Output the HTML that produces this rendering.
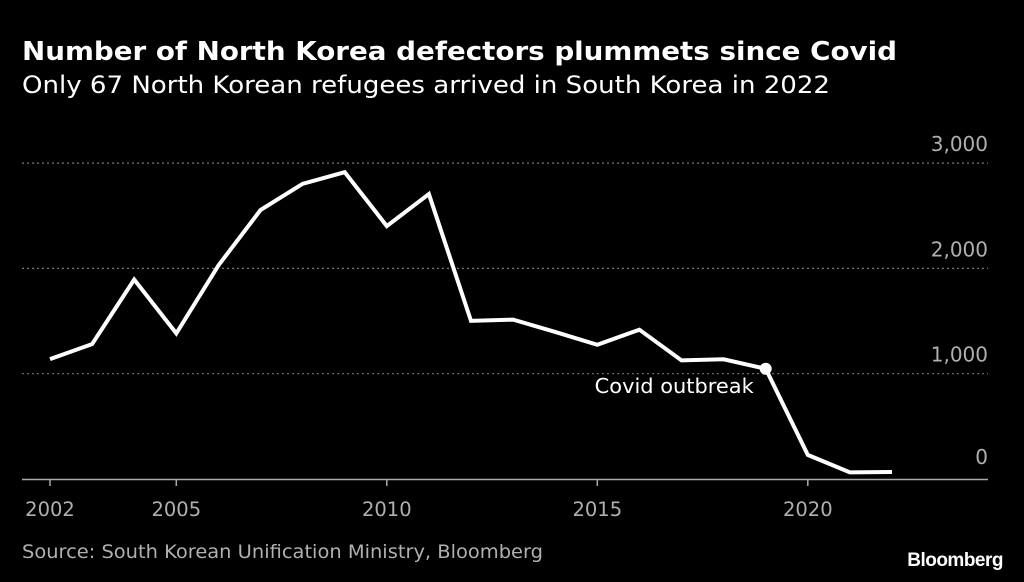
<!DOCTYPE html>
<html><head><meta charset="utf-8"><style>
html,body{margin:0;padding:0;background:#000;}
svg{display:block;font-family:"DejaVu Sans","Liberation Sans",sans-serif;}
</style></head><body>
<svg id="chart" width="1024" height="582" viewBox="0 0 1024 582">
<rect width="1024" height="582" fill="#000"/>
<text x="22" y="60" font-size="26" font-weight="bold" fill="#fff" textLength="875" lengthAdjust="spacingAndGlyphs">Number of North Korea defectors plummets since Covid</text>
<text x="22" y="93" font-size="24" fill="#fff" textLength="808" lengthAdjust="spacingAndGlyphs">Only 67 North Korean refugees arrived in South Korea in 2022</text>
<g id="grid"></g>
<g id="xaxis"></g>
<g id="yaxis"></g>
<polyline id="line" fill="none" stroke="#fff" stroke-width="4" stroke-linejoin="miter"/>
<circle id="covid-dot" r="6" fill="#fff"/>
<text id="covid-label" font-size="20" fill="#fff" text-anchor="end" textLength="159" lengthAdjust="spacingAndGlyphs">Covid outbreak</text>
<text x="22" y="558" font-size="19" fill="#b0b0b0" textLength="521" lengthAdjust="spacingAndGlyphs">Source: South Korean Unification Ministry, Bloomberg</text>
<text x="1003" y="566" font-size="19" font-weight="bold" fill="#fff" text-anchor="end" font-family="Liberation Sans, sans-serif" letter-spacing="-0.5">Bloomberg</text>
</svg>
<script>
const years=[2002,2003,2004,2005,2006,2007,2008,2009,2010,2011,2012,2013,2014,2015,2016,2017,2018,2019,2020,2021,2022];
const defectors=[1138,1281,1894,1383,2028,2554,2803,2914,2402,2706,1502,1514,1397,1275,1418,1127,1137,1047,229,63,67];
const yTicks=[0,1000,2000,3000];
const yTickLabels=["0","1,000","2,000","3,000"];
const xTicks=[2002,2005,2010,2015,2020];
const covidYear=2019;
const ns="http://www.w3.org/2000/svg";
const x=v=>50+(v-2002)*42.1;
const y=v=>479-v*0.1053;
const grid=document.getElementById('grid'),xa=document.getElementById('xaxis'),ya=document.getElementById('yaxis');
yTicks.forEach((t,i)=>{
 if(t>0){const l=document.createElementNS(ns,'line');
 l.setAttribute('x1',22);l.setAttribute('x2',988);l.setAttribute('y1',y(t));l.setAttribute('y2',y(t));
 l.setAttribute('stroke','#777');l.setAttribute('stroke-width','1.2');l.setAttribute('stroke-dasharray','2,3');
 
 
 grid.appendChild(l);}
 const tx=document.createElementNS(ns,'text');
 tx.setAttribute('x',988);tx.setAttribute('y',y(t)-(t===0?15:12));tx.setAttribute('text-anchor','end');
 tx.setAttribute('font-size','20');tx.setAttribute('fill','#b0b0b0');tx.textContent=yTickLabels[i];
 
 
 ya.appendChild(tx);
});
const ax=document.createElementNS(ns,'line');
ax.setAttribute('x1',22);ax.setAttribute('x2',988);ax.setAttribute('y1',479.5);ax.setAttribute('y2',479.5);
ax.setAttribute('stroke','#aaa');ax.setAttribute('stroke-width','1.5');


xa.appendChild(ax);
xTicks.forEach(t=>{
 const tk=document.createElementNS(ns,'line');
 tk.setAttribute('x1',x(t));tk.setAttribute('x2',x(t));tk.setAttribute('y1',479);tk.setAttribute('y2',486);
 tk.setAttribute('stroke','#aaa');tk.setAttribute('stroke-width','1.5');
 
 
 xa.appendChild(tk);
 const tx=document.createElementNS(ns,'text');
 tx.setAttribute('x',x(t));tx.setAttribute('y',516);tx.setAttribute('text-anchor','middle');
 tx.setAttribute('font-size','19.5');tx.setAttribute('fill','#b0b0b0');tx.textContent=t;
 
 
 xa.appendChild(tx);
});
document.getElementById('line').setAttribute('points',years.map((yr,i)=>x(yr)+','+y(defectors[i])).join(' '));
const ci=years.indexOf(covidYear);
const dot=document.getElementById('covid-dot');
dot.setAttribute('cx',x(covidYear));dot.setAttribute('cy',y(defectors[ci]));
const lb=document.getElementById('covid-label');
lb.setAttribute('x',x(covidYear)-12);lb.setAttribute('y',y(defectors[ci])+24);
</script>
</body></html>
